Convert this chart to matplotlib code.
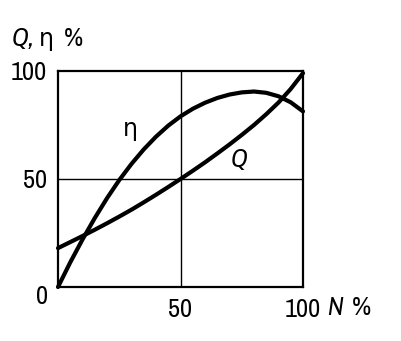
import numpy as np
import matplotlib
matplotlib.use("Agg")
import matplotlib.pyplot as plt

# values (N %, Q %, eta %)
n_eta = [0, 5, 10, 15, 20, 25, 30, 35, 40, 45, 50, 55, 60, 65, 70, 75, 80, 85, 90, 95, 100]
eta = [0, 11.4, 22, 31.9, 41.1, 49.5, 57, 63.7, 69.6, 74.7, 79, 82.5, 85.3, 87.5, 89.1, 90.1, 90.5, 89.9, 88.3, 85.5, 81.3]
n_q = [0, 5, 10, 15, 20, 25, 30, 35, 40, 45, 50, 55, 60, 65, 70, 75, 80, 85, 90, 95, 100]
q = [18, 20.8, 23.6, 26.5, 29.5, 32.6, 35.8, 39.2, 42.7, 46.3, 50, 53.8, 57.7, 61.8, 66, 70.4, 75, 80, 85.4, 91.7, 99]

fs = 19
plt.rcParams["font.family"] = ["Archivo Narrow", "DejaVu Sans"]
kw = dict(fontsize=fs)

fig = plt.figure(figsize=(4.01, 3.41), dpi=100)
ax = fig.add_axes([58 / 401, 54 / 341, 245 / 401, 216 / 341])
ax.set_xlim(0, 100)
ax.set_ylim(0, 100)

ax.axhline(50, color="black", lw=1.0)
ax.axvline(50, color="black", lw=1.0)
ax.plot(n_eta, eta, color="black", lw=3.0, solid_capstyle="round", solid_joinstyle="round", clip_on=False)
ax.plot(n_q, q, color="black", lw=3.0, solid_capstyle="round", solid_joinstyle="round", clip_on=False)

for s in ax.spines.values():
    s.set_linewidth(1.6)

ax.set_xticks([50, 100])
ax.set_xticklabels(["50", "100"], **kw)
ax.set_yticks([50, 100])
ax.set_yticklabels(["50", "100"], **kw)
ax.tick_params(length=0, pad=8)

ax.text(-6.7, -4.2, "0", ha="center", va="center", **kw)
ax.text(29.5, 73, "η", ha="center", va="center", family="DejaVu Sans", fontsize=17)
ax.text(74, 59, "Q", style="italic", ha="center", va="center", **kw)
ax.text(110, -4.2, "N", style="italic", ha="left", va="top", **kw)
ax.text(120, -4.2, "%", ha="left", va="top", **kw)
fig.text(12 / 401, 0.886, "Q,", style="italic", ha="left", va="center", **kw)
fig.text(39 / 401, 0.886, "η", ha="left", va="center", family="DejaVu Sans", fontsize=17)
fig.text(64 / 401, 0.886, "%", ha="left", va="center", **kw)

fig.savefig("out.png", dpi=100)
